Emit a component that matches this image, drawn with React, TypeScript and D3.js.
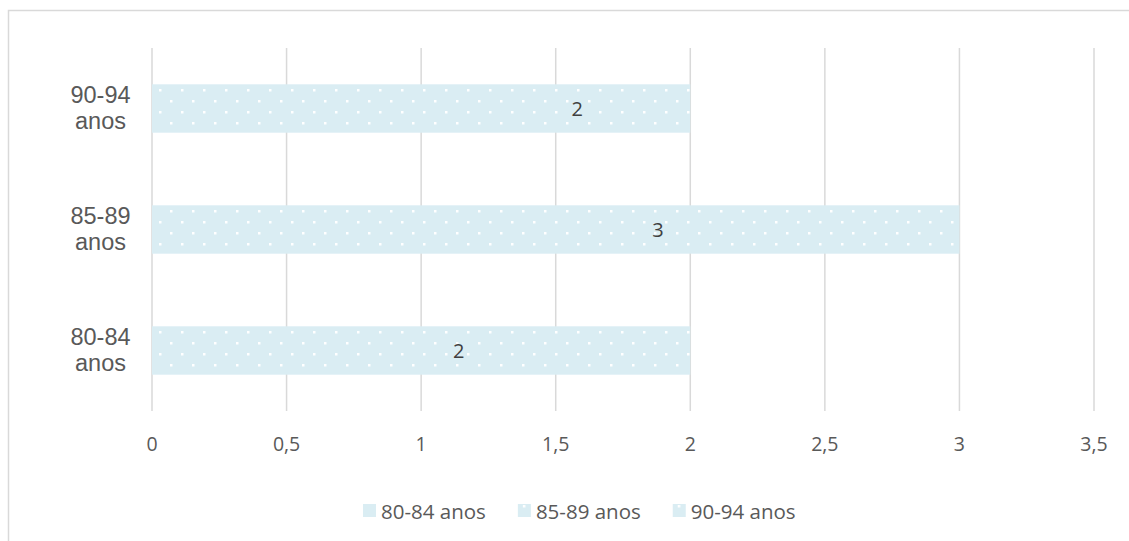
import * as d3 from 'd3';
import React, { useEffect, useRef } from 'react';

// categories from bottom to top, as drawn
const categories = ['80-84 anos', '85-89 anos', '90-94 anos'];
const values = [2, 3, 2];
// where Excel put each data label, in value units
const labelAt = [1.14, 1.88, 1.58];
const xTicks = [0, 0.5, 1, 1.5, 2, 2.5, 3, 3.5];
const legendItems = ['80-84 anos', '85-89 anos', '90-94 anos'];

const App: React.FC = () => {
    const svgRef = useRef<SVGSVGElement | null>(null);

    useEffect(() => {
        const width = 1129;
        const height = 541;
        const plot = { left: 152, right: 1094, top: 48, bottom: 411 };

        d3.select(svgRef.current).selectAll('*').remove();
        const svg = d3.select(svgRef.current)
            .attr('width', width)
            .attr('height', height);

        // dotted fill used by the bars
        const defs = svg.append('defs');
        const pat = defs.append('pattern')
            .attr('id', 'dots')
            .attr('patternUnits', 'userSpaceOnUse')
            .attr('width', 22)
            .attr('height', 22)
            .attr('x', 5)
            .attr('y', 1);
        pat.append('rect').attr('width', 22).attr('height', 22).attr('fill', '#DAEDF3');
        pat.append('rect').attr('x', 0).attr('y', 0).attr('width', 2.5).attr('height', 2.5).attr('fill', '#ffffff');
        pat.append('rect').attr('x', 11).attr('y', 11).attr('width', 2.5).attr('height', 2.5).attr('fill', '#ffffff');

        svg.append('rect')
            .attr('x', 0).attr('y', 0).attr('width', width).attr('height', height)
            .attr('fill', '#ffffff');

        // chart border (right and bottom edges fall outside the picture)
        svg.append('rect')
            .attr('x', 8.5).attr('y', 10.5)
            .attr('width', width + 10).attr('height', height + 10)
            .attr('fill', 'none')
            .attr('stroke', '#D9D9D9')
            .attr('stroke-width', 1.5);

        const x = d3.scaleLinear().domain([0, 3.5]).range([plot.left, plot.right]);
        const y = d3.scaleBand<string>()
            .domain([...categories].reverse())
            .range([plot.top, plot.bottom])
            .paddingInner(0.6)
            .paddingOuter(0.3);

        // vertical gridlines
        svg.append('g')
            .selectAll('line')
            .data(xTicks)
            .enter()
            .append('line')
            .attr('x1', d => x(d))
            .attr('x2', d => x(d))
            .attr('y1', plot.top)
            .attr('y2', plot.bottom)
            .attr('stroke', '#D9D9D9')
            .attr('stroke-width', 1.5);

        // x tick labels
        svg.append('g')
            .selectAll('text')
            .data(xTicks)
            .enter()
            .append('text')
            .attr('x', d => x(d))
            .attr('y', 451)
            .attr('text-anchor', 'middle')
            .attr('fill', '#595959')
            .style('font-family', '"Open Sans", sans-serif')
            .style('font-size', '19.5px')
            .text(d => String(d).replace('.', ','));

        // bars
        svg.append('g')
            .selectAll('rect')
            .data(categories)
            .enter()
            .append('rect')
            .attr('x', x(0))
            .attr('y', d => y(d) as number)
            .attr('width', (d, i) => x(values[i]) - x(0))
            .attr('height', y.bandwidth())
            .attr('fill', 'url(#dots)');

        // data labels
        svg.append('g')
            .selectAll('text')
            .data(categories)
            .enter()
            .append('text')
            .attr('x', (d, i) => x(labelAt[i]))
            .attr('y', d => (y(d) as number) + y.bandwidth() / 2 + 7.5)
            .attr('text-anchor', 'middle')
            .attr('fill', '#404040')
            .style('font-family', '"Open Sans", sans-serif')
            .style('font-size', '20px')
            .text((d, i) => String(values[i]));

        // category labels, two lines each
        const cat = svg.append('g')
            .selectAll('text')
            .data(categories)
            .enter()
            .append('text')
            .attr('text-anchor', 'middle')
            .attr('fill', '#595959')
            .style('font-family', '"Liberation Sans", Arial, sans-serif')
            .style('font-size', '23.5px');
        cat.append('tspan')
            .attr('x', 100.5)
            .attr('y', d => (y(d) as number) + y.bandwidth() / 2 - 5.5)
            .text(d => d.split(' ')[0]);
        cat.append('tspan')
            .attr('x', 100.5)
            .attr('y', d => (y(d) as number) + y.bandwidth() / 2 + 20.5)
            .text(d => d.split(' ')[1]);

        // legend
        const legend = svg.append('g').attr('transform', 'translate(363,504)');
        let offset = 0;
        legendItems.forEach((name, i) => {
            const g = legend.append('g').attr('transform', `translate(${offset},0)`);
            g.append('rect')
                .attr('width', 13)
                .attr('height', 13)
                .attr('fill', i === 0 ? '#DAEDF3' : 'url(#dots)');
            const t = g.append('text')
                .attr('x', 18)
                .attr('y', 14.5)
                .attr('fill', '#595959')
                .style('font-family', '"Open Sans", sans-serif')
                .style('font-size', '20.5px')
                .text(name);
            const len = (t.node() as SVGTextElement).getComputedTextLength();
            offset += 18 + len + 32;
        });
    }, []);

    return (
        <div style={{ position: 'absolute', left: 0, top: 0 }}>
            <svg ref={svgRef}></svg>
        </div>
    );
};

export default App;
